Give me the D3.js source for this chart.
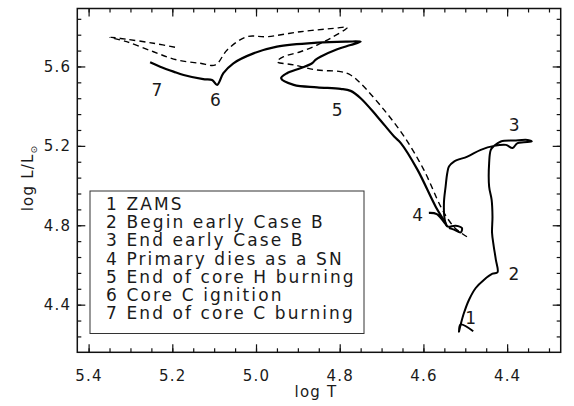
<!DOCTYPE html>
<html>
<head>
<meta charset="utf-8">
<script src="https://cdn.jsdelivr.net/npm/d3@7"></script>
<style>
  body { margin: 0; background: #fff; }
  text { font-family: "DejaVu Sans", sans-serif; fill: #1a1a1a; }
</style>
</head>
<body>
<div id="hrd"></div>
<script>
// track of the star from ZAMS through early Case B down to the SN point
const primaryT = [4.481, 4.511, 4.515, 4.511, 4.503, 4.491, 4.475, 4.455, 4.435, 4.423,
  4.427, 4.432, 4.436, 4.435, 4.437, 4.443, 4.443, 4.439, 4.431, 4.415, 4.383, 4.351, 4.341,
  4.375, 4.387, 4.403, 4.431, 4.463, 4.495, 4.527, 4.539, 4.543, 4.547, 4.551, 4.549, 4.543,
  4.523, 4.508, 4.511, 4.527, 4.539];
const primaryL = [4.266, 4.300, 4.264, 4.300, 4.359, 4.425, 4.484, 4.526, 4.556, 4.563,
  4.627, 4.694, 4.761, 4.844, 4.928, 4.995, 5.113, 5.180, 5.200, 5.222, 5.227, 5.230, 5.222,
  5.214, 5.189, 5.205, 5.200, 5.180, 5.146, 5.121, 5.096, 5.063, 4.995, 4.912, 4.828, 4.794,
  4.798, 4.786, 4.764, 4.778, 4.786];

// track after the SN up to the end of core C burning
const afterT = [4.587, 4.568, 4.544, 4.571, 4.614, 4.654, 4.670, 4.710, 4.750, 4.774, 4.798,
  4.854, 4.910, 4.940, 4.926, 4.894, 4.866, 4.858, 4.846, 4.806, 4.774, 4.750, 4.782, 4.854,
  4.950, 5.006, 5.054, 5.078, 5.093, 5.105, 5.126, 5.173, 5.197, 5.229, 5.253];
const afterL = [4.862, 4.856, 4.798, 4.895, 5.079, 5.214, 5.247, 5.347, 5.440, 5.477, 5.487,
  5.495, 5.507, 5.541, 5.566, 5.591, 5.616, 5.633, 5.649, 5.687, 5.708, 5.725, 5.725, 5.720,
  5.700, 5.666, 5.616, 5.566, 5.507, 5.532, 5.536, 5.557, 5.574, 5.599, 5.621];

// comparison track (dashed)
const dashT = [4.496, 4.523, 4.542, 4.559, 4.599, 4.646, 4.694, 4.750, 4.774, 4.798, 4.854,
  4.910, 4.950, 4.934, 4.894, 4.854, 4.822, 4.782, 4.814, 4.894, 4.974, 5.022, 5.069, 5.097,
  5.133, 5.189, 5.245, 5.309, 5.349, 5.309, 5.245, 5.189];
const dashL = [4.742, 4.783, 4.833, 4.895, 5.079, 5.247, 5.381, 5.515, 5.557, 5.574, 5.582,
  5.608, 5.624, 5.649, 5.674, 5.708, 5.742, 5.797, 5.792, 5.775, 5.750, 5.750, 5.683, 5.608,
  5.616, 5.633, 5.674, 5.725, 5.747, 5.737, 5.717, 5.695];

// numbered points on the tracks
const markNames = ["1", "2", "3", "4", "5", "6", "7"];
const markT = [4.487, 4.384, 4.383, 4.614, 4.806, 5.097, 5.237];
const markL = [4.333, 4.556, 5.306, 4.850, 5.381, 5.431, 5.482];

const legendLines = ["1 ZAMS", "2 Begin early Case B", "3 End early Case B",
  "4 Primary dies as a SN", "5 End of core H burning", "6 Core C ignition",
  "7 End of core C burning"];

const xTicks = [5.4, 5.2, 5.0, 4.8, 4.6, 4.4];
const xTickLabels = ["5.4", "5.2", "5.0", "4.8", "4.6", "4.4"];
const xMinor = [5.4, 5.35, 5.3, 5.25, 5.2, 5.15, 5.1, 5.05, 5.0, 4.95, 4.9, 4.85, 4.8,
  4.75, 4.7, 4.65, 4.6, 4.55, 4.5, 4.45, 4.4, 4.35, 4.3];
const yTicks = [4.4, 4.8, 5.2, 5.6];
const yTickLabels = ["4.4", "4.8", "5.2", "5.6"];
const yMinor = [4.24, 4.32, 4.4, 4.48, 4.56, 4.64, 4.72, 4.8, 4.88, 4.96, 5.04, 5.12, 5.2,
  5.28, 5.36, 5.44, 5.52, 5.6, 5.68, 5.76, 5.84];

let width = 574, height = 406;
let margin = { left: 77.3, right: 13.3, top: 8.5, bottom: 53.7 };
let w = width - margin.left - margin.right;
let h = height - margin.top - margin.bottom;

let svg = d3.select("#hrd").append("svg")
  .attr("width", width)
  .attr("height", height);

let g = svg.append("g")
  .attr("transform", "translate(" + margin.left + "," + margin.top + ")");

let x = d3.scaleLinear().domain([5.427, 4.272]).range([0, w]);
let y = d3.scaleLinear().domain([4.16, 5.892]).range([h, 0]);

// axes, ticks pointing inward on all four sides
function styleAxis(sel) {
  sel.select(".domain").remove();
  sel.selectAll(".tick line").attr("stroke", "#111").attr("stroke-width", 1.2);
  sel.selectAll("text").attr("font-size", 15).attr("letter-spacing", 1.2).attr("fill", "#2a2a2a");
}
const noLabel = () => "";

g.append("g").attr("transform", "translate(0," + h + ")")
  .call(d3.axisBottom(x).tickValues(xMinor).tickSize(-4).tickFormat(noLabel)).call(styleAxis);
g.append("g").attr("transform", "translate(0," + h + ")")
  .call(d3.axisBottom(x).tickValues(xTicks).tickSize(-8).tickPadding(18)
    .tickFormat((d, i) => xTickLabels[i])).call(styleAxis);
g.append("g")
  .call(d3.axisTop(x).tickValues(xMinor).tickSize(-4).tickFormat(noLabel)).call(styleAxis);
g.append("g")
  .call(d3.axisTop(x).tickValues(xTicks).tickSize(-8).tickFormat(noLabel)).call(styleAxis);

g.append("g")
  .call(d3.axisLeft(y).tickValues(yMinor).tickSize(-4).tickFormat(noLabel)).call(styleAxis);
g.append("g")
  .call(d3.axisLeft(y).tickValues(yTicks).tickSize(-8).tickPadding(6)
    .tickFormat((d, i) => yTickLabels[i])).call(styleAxis);
g.append("g").attr("transform", "translate(" + w + ",0)")
  .call(d3.axisRight(y).tickValues(yMinor).tickSize(-4).tickFormat(noLabel)).call(styleAxis);
g.append("g").attr("transform", "translate(" + w + ",0)")
  .call(d3.axisRight(y).tickValues(yTicks).tickSize(-8).tickFormat(noLabel)).call(styleAxis);

g.append("rect")
  .attr("width", w).attr("height", h)
  .attr("fill", "none").attr("stroke", "#111").attr("stroke-width", 1.5);

// axis titles
svg.append("text")
  .attr("x", 316).attr("y", 397)
  .attr("text-anchor", "middle").attr("font-size", 15).attr("letter-spacing", 1.2)
  .text("log T");

let yTitle = svg.append("text")
  .attr("transform", "translate(33,178) rotate(-90)")
  .attr("text-anchor", "middle").attr("font-size", 15).attr("letter-spacing", 1.2);
yTitle.append("tspan").text("log L/L");
yTitle.append("tspan").attr("font-size", 9).attr("dy", 4).text("\u2299");

// tracks
let line = d3.line()
  .x(d => x(d[0]))
  .y(d => y(d[1]))
  .curve(d3.curveCatmullRom.alpha(0.5));

g.append("path")
  .datum(primaryT.map((t, i) => [t, primaryL[i]]))
  .attr("d", line)
  .attr("fill", "none").attr("stroke", "#000").attr("stroke-width", 2)
  .attr("stroke-linejoin", "round");

g.append("path")
  .datum(afterT.map((t, i) => [t, afterL[i]]))
  .attr("d", line)
  .attr("fill", "none").attr("stroke", "#000").attr("stroke-width", 2.2)
  .attr("stroke-linejoin", "round");

g.append("path")
  .datum(dashT.map((t, i) => [t, dashL[i]]))
  .attr("d", line)
  .attr("fill", "none").attr("stroke", "#000").attr("stroke-width", 1.4)
  .attr("stroke-dasharray", "6,4");

// numbered labels
g.selectAll(".mark")
  .data(markNames)
  .enter()
  .append("text")
    .attr("x", (d, i) => x(markT[i]))
    .attr("y", (d, i) => y(markL[i]))
    .attr("dy", "0.36em")
    .attr("text-anchor", "middle")
    .attr("font-size", 17)
    .text(d => d);

// legend
let legend = svg.append("g");
legend.append("rect")
  .attr("x", 90).attr("y", 191).attr("width", 274).attr("height", 142.5)
  .attr("fill", "#fff").attr("stroke", "#333").attr("stroke-width", 1);
legend.selectAll("text")
  .data(legendLines)
  .enter()
  .append("text")
    .attr("x", 106)
    .attr("y", (d, i) => 210 + i * 18.2)
    .attr("font-size", 17)
    .attr("letter-spacing", 2.1)
    .text(d => d);
</script>
</body>
</html>
